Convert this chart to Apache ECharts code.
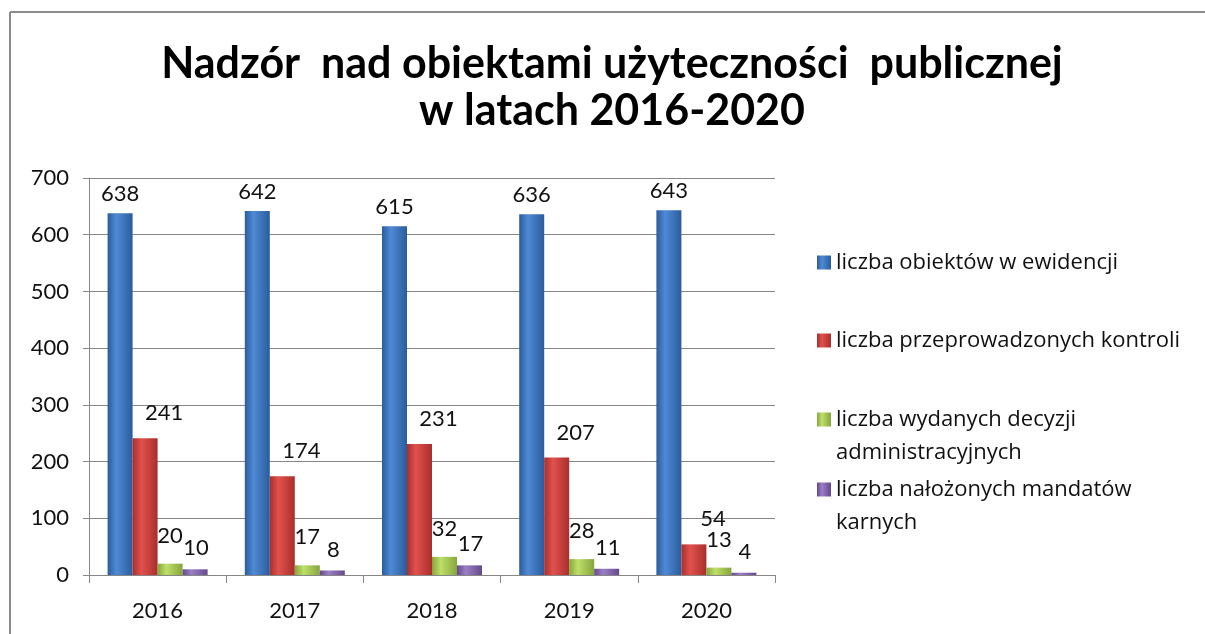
<!DOCTYPE html>
<html>
<head>
<meta charset="utf-8">
<script src="https://cdn.jsdelivr.net/npm/echarts@6/dist/echarts.min.js"></script>
<style>
  html, body { margin: 0; padding: 0; background: #fff; }
  #chart { width: 1205px; height: 634px; }
</style>
</head>
<body>
<div id="chart"></div>
<script>
// dane z wykresu
var lata = ['2016', '2017', '2018', '2019', '2020'];
var obiekty = [638, 642, 615, 636, 643];
var kontrole = [241, 174, 231, 207, 54];
var decyzje = [20, 17, 32, 28, 13];
var mandaty = [10, 8, 17, 11, 4];
var nazwy = [
    'liczba obiektów w ewidencji',
    'liczba przeprowadzonych kontroli',
    'liczba wydanych decyzji administracyjnych',
    'liczba nałożonych mandatów karnych'
];

;(function(){
    var chart = echarts.init(document.getElementById('chart'));
    var font = 'Lato, "Open Sans", sans-serif';
    var legendFont = '"Open Sans", Lato, sans-serif';

    // gradient poziomy - imitacja walca z Excela
    function grad(edge, mid) {
        return new echarts.graphic.LinearGradient(0, 0, 1, 0, [
            { offset: 0, color: edge },
            { offset: 0.35, color: mid },
            { offset: 1, color: edge }
        ]);
    }

    function seria(idx, dane, edge, mid, offset) {
        return {
            name: nazwy[idx],
            type: 'bar',
            data: dane,
            barWidth: 25,
            barGap: '0%',
            itemStyle: { color: grad(edge, mid) },
            label: {
                show: true,
                position: 'top',
                offset: offset,
                color: '#111',
                fontSize: 22,
                fontFamily: font
            }
        };
    }

    // każda pozycja legendy osobno (nierówne odstępy jak w oryginale)
    var legendTops = [246, 324, 370, 440];
    var legends = nazwy.map(function (n, i) {
        return {
            data: [n],
            left: 817,
            top: legendTops[i],
            padding: 0,
            orient: 'vertical',
            itemWidth: 14,
            itemHeight: 14,
            icon: 'rect',
            selectedMode: false,
            formatter: function (name) {
                if (i === 2) return '\nliczba wydanych decyzji\nadministracyjnych';
                if (i === 3) return '\nliczba nałożonych mandatów\nkarnych';
                return name;
            },
            textStyle: {
                fontSize: 22,
                lineHeight: 33,
                color: '#111',
                fontFamily: legendFont
            }
        };
    });

    var option = {
        backgroundColor: '#fff',
        animation: false,
        title: {
            text: 'Nadzór  nad obiektami użyteczności  publicznej\nw latach 2016-2020',
            left: 612,
            top: 41,
            textAlign: 'center',
            padding: 0,
            textStyle: {
                fontSize: 43,
                fontWeight: 'bold',
                lineHeight: 47,
                color: '#000',
                fontFamily: font
            }
        },
        legend: legends,
        grid: {
            left: 89,
            right: 430,
            top: 178,
            bottom: 59
        },
        xAxis: {
            type: 'category',
            data: lata,
            axisLine: { lineStyle: { color: '#868686', width: 1 } },
            axisTick: { show: true, length: 8, lineStyle: { color: '#868686' } },
            axisLabel: { color: '#111', fontSize: 22, margin: 25, fontFamily: font }
        },
        yAxis: {
            type: 'value',
            min: 0,
            max: 700,
            interval: 100,
            axisLine: { show: true, lineStyle: { color: '#868686' } },
            axisTick: { show: true, length: 6, lineStyle: { color: '#868686' } },
            axisLabel: { color: '#111', fontSize: 22, margin: 20, fontFamily: font },
            splitLine: { lineStyle: { color: '#868686', width: 1 } }
        },
        graphic: [
            { type: 'line', shape: { x1: 10, y1: 12, x2: 10, y2: 634 }, style: { stroke: '#8c8c8c', lineWidth: 2 } },
            { type: 'line', shape: { x1: 10, y1: 12, x2: 1205, y2: 12 }, style: { stroke: '#8c8c8c', lineWidth: 2 } }
        ],
        series: [
            seria(0, obiekty, '#2a5c9c', '#4f8ad6', [0, -3]),
            seria(1, kontrole, '#a82f2c', '#e2514d', [19, -9]),
            seria(2, decyzje, '#86a63c', '#bedf68', [0, -12]),
            seria(3, mandaty, '#65498a', '#9c7ec6', [1, -5])
        ]
    };

    chart.setOption(option);
})()
</script>
</body>
</html>
